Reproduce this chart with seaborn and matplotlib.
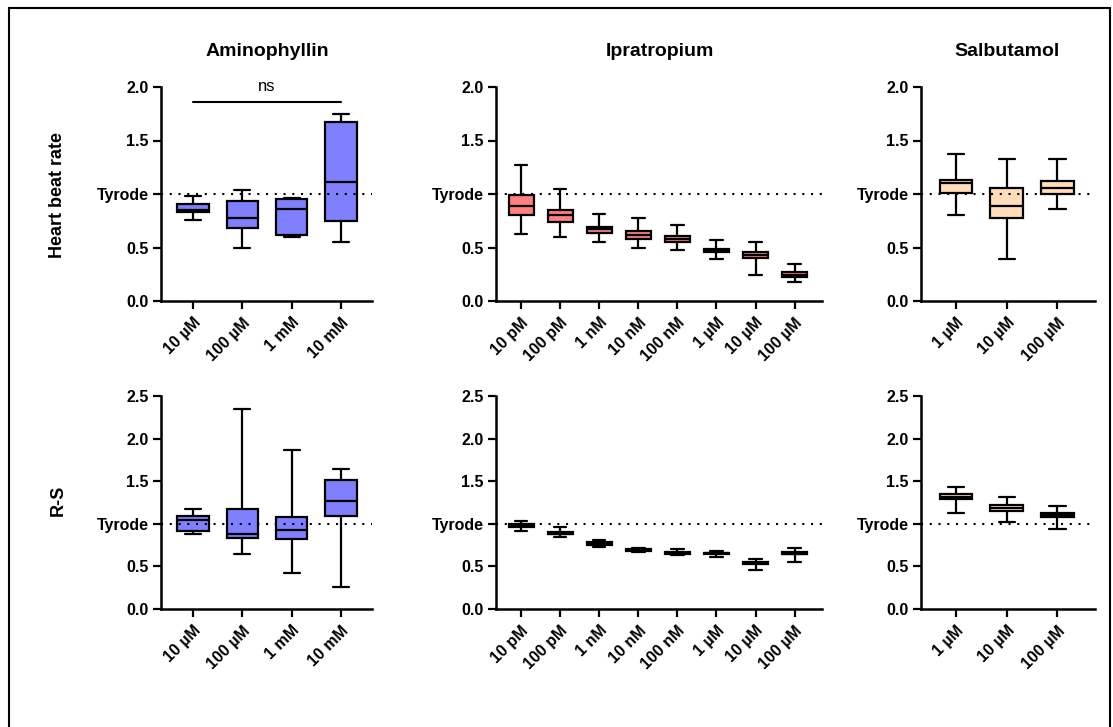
import numpy as np
import pandas as pd
import matplotlib
matplotlib.use("Agg")
import matplotlib.pyplot as plt
import seaborn as sns

# Drugs and concentrations
DRUGS = ["Aminophyllin", "Ipratropium", "Salbutamol"]
AMINO_DOSES = ["10 µM", "100 µM", "1 mM", "10 mM"]
IPRA_DOSES = ["10 pM", "100 pM", "1 nM", "10 nM", "100 nM", "1 µM", "10 µM", "100 µM"]
SALBU_DOSES = ["1 µM", "10 µM", "100 µM"]

# Five-number summaries: min, Q1, median, Q3, max
AMINO_HR = [
    [0.76, 0.83, 0.85, 0.91, 0.98],
    [0.50, 0.685, 0.78, 0.93, 1.04],
    [0.595, 0.62, 0.86, 0.95, 0.96],
    [0.55, 0.75, 1.11, 1.67, 1.75],
]
IPRA_HR = [
    [0.63, 0.80, 0.89, 0.99, 1.27],
    [0.60, 0.74, 0.80, 0.85, 1.05],
    [0.55, 0.64, 0.67, 0.69, 0.81],
    [0.50, 0.58, 0.62, 0.65, 0.775],
    [0.48, 0.55, 0.58, 0.61, 0.71],
    [0.39, 0.455, 0.47, 0.485, 0.57],
    [0.24, 0.40, 0.43, 0.456, 0.556],
    [0.18, 0.22, 0.245, 0.27, 0.35],
]
SALBU_HR = [
    [0.80, 1.01, 1.10, 1.13, 1.375],
    [0.39, 0.78, 0.885, 1.06, 1.33],
    [0.86, 1.00, 1.06, 1.12, 1.33],
]
AMINO_RS = [
    [0.875, 0.915, 1.05, 1.09, 1.175],
    [0.65, 0.835, 0.885, 1.17, 2.35],
    [0.42, 0.82, 0.93, 1.08, 1.87],
    [0.26, 1.09, 1.27, 1.51, 1.64],
]
IPRA_RS = [
    [0.915, 0.96, 0.98, 0.995, 1.03],
    [0.84, 0.877, 0.885, 0.90, 0.967],
    [0.73, 0.757, 0.772, 0.784, 0.807],
    [0.67, 0.68, 0.694, 0.70, 0.714],
    [0.628, 0.647, 0.66, 0.67, 0.70],
    [0.61, 0.647, 0.655, 0.663, 0.683],
    [0.46, 0.534, 0.54, 0.554, 0.59],
    [0.546, 0.64, 0.65, 0.667, 0.714],
]
SALBU_RS = [
    [1.123, 1.287, 1.32, 1.353, 1.435],
    [1.018, 1.147, 1.19, 1.225, 1.31],
    [0.944, 1.076, 1.104, 1.13, 1.21],
]

COLORS = {"Aminophyllin": "#8080FF", "Ipratropium": "#FF8080", "Salbutamol": "#FFDDBB"}

W, H = 1113, 727


def makeFrame(doses, values):
    rows = []
    for d, v in zip(doses, values):
        for x in v:
            rows.append({"Dose": d, "Value": x})
    return pd.DataFrame(rows)


def pxAxes(fig, left, right, top, bottom):
    return fig.add_axes([left / W, 1 - bottom / H, (right - left) / W, (bottom - top) / H])


def drawPanel(ax, drug, doses, values, ymax, xlim):
    df = makeFrame(doses, values)
    sns.boxplot(data=df, x="Dose", y="Value", order=doses, color=COLORS[drug],
                saturation=1, whis=(0, 100), width=0.64, linecolor="black",
                linewidth=1.6, ax=ax)
    # Tyrode reference line, drawn over the boxes
    ax.axhline(1.0, color="black", linestyle=(0, (1, 3.2)), linewidth=1.5, zorder=5)
    ax.set_xlim(*xlim)
    ax.set_ylim(0, ymax)
    ticks = np.arange(0, ymax + 0.01, 0.5)
    ax.set_yticks(ticks)
    ax.set_yticklabels(["Tyrode" if abs(t - 1) < 1e-6 else f"{t:.1f}" for t in ticks],
                       fontweight="bold", fontsize=11.5)
    ax.set_xticks(range(len(doses)))
    ax.set_xticklabels(doses, rotation=45, ha="right", rotation_mode="anchor",
                       fontweight="bold", fontsize=11.5)
    ax.set_xlabel("")
    ax.set_ylabel("")
    sns.despine(ax=ax)
    for s in ["left", "bottom"]:
        ax.spines[s].set_linewidth(1.8)
        ax.spines[s].set_color("black")
    ax.tick_params(axis="both", width=1.6, length=6, pad=3, colors="black")
    ax.tick_params(axis="x", pad=4)


def main():
    sns.set_style("ticks")
    plt.rcParams["font.family"] = ["Liberation Sans", "DejaVu Sans"]
    plt.rcParams["text.color"] = "black"

    fig = plt.figure(figsize=(W / 100, H / 100), dpi=100)

    xspans = {
        "Aminophyllin": (161, 372, (-0.65, 3.63)),
        "Ipratropium": (496, 822, (-0.64, 7.7)),
        "Salbutamol": (921, 1095, (-0.69, 2.74)),
    }
    doseMap = {"Aminophyllin": AMINO_DOSES, "Ipratropium": IPRA_DOSES, "Salbutamol": SALBU_DOSES}
    hrMap = {"Aminophyllin": AMINO_HR, "Ipratropium": IPRA_HR, "Salbutamol": SALBU_HR}
    rsMap = {"Aminophyllin": AMINO_RS, "Ipratropium": IPRA_RS, "Salbutamol": SALBU_RS}

    for drug in DRUGS:
        l, r, xl = xspans[drug]
        axTop = pxAxes(fig, l, r, 87, 301)
        drawPanel(axTop, drug, doseMap[drug], hrMap[drug], 2.0, xl)
        axBot = pxAxes(fig, l, r, 396, 609)
        drawPanel(axBot, drug, doseMap[drug], rsMap[drug], 2.5, xl)
        if drug == "Aminophyllin":
            axTop.plot([0, 3], [1.86, 1.86], color="black", linewidth=1.5, clip_on=False)
            axTop.text(1.5, 1.93, "ns", ha="center", va="bottom", fontsize=12, clip_on=False)

    # Column titles
    fig.text(267 / W, 1 - 52 / H, "Aminophyllin", ha="center", va="center", fontsize=14, fontweight="bold")
    fig.text(660 / W, 1 - 52 / H, "Ipratropium", ha="center", va="center", fontsize=14, fontweight="bold")
    fig.text(1007 / W, 1 - 52 / H, "Salbutamol", ha="center", va="center", fontsize=14, fontweight="bold")

    # Row labels
    fig.text(58 / W, 1 - 195 / H, "Heart beat rate", ha="center", va="center", rotation=90,
             fontsize=13, fontweight="bold")
    fig.text(58 / W, 1 - 500 / H, "R-S", ha="center", va="center", rotation=90,
             fontsize=13, fontweight="bold")

    # Outer frame
    frame = plt.Rectangle((9 / W, -0.05), (1110 - 9) / W, 1.05 - 8 / H, transform=fig.transFigure,
                          fill=False, edgecolor="black", linewidth=1.5)
    fig.patches.append(frame)

    fig.savefig("out.png", dpi=100)


if __name__ == "__main__":
    main()
